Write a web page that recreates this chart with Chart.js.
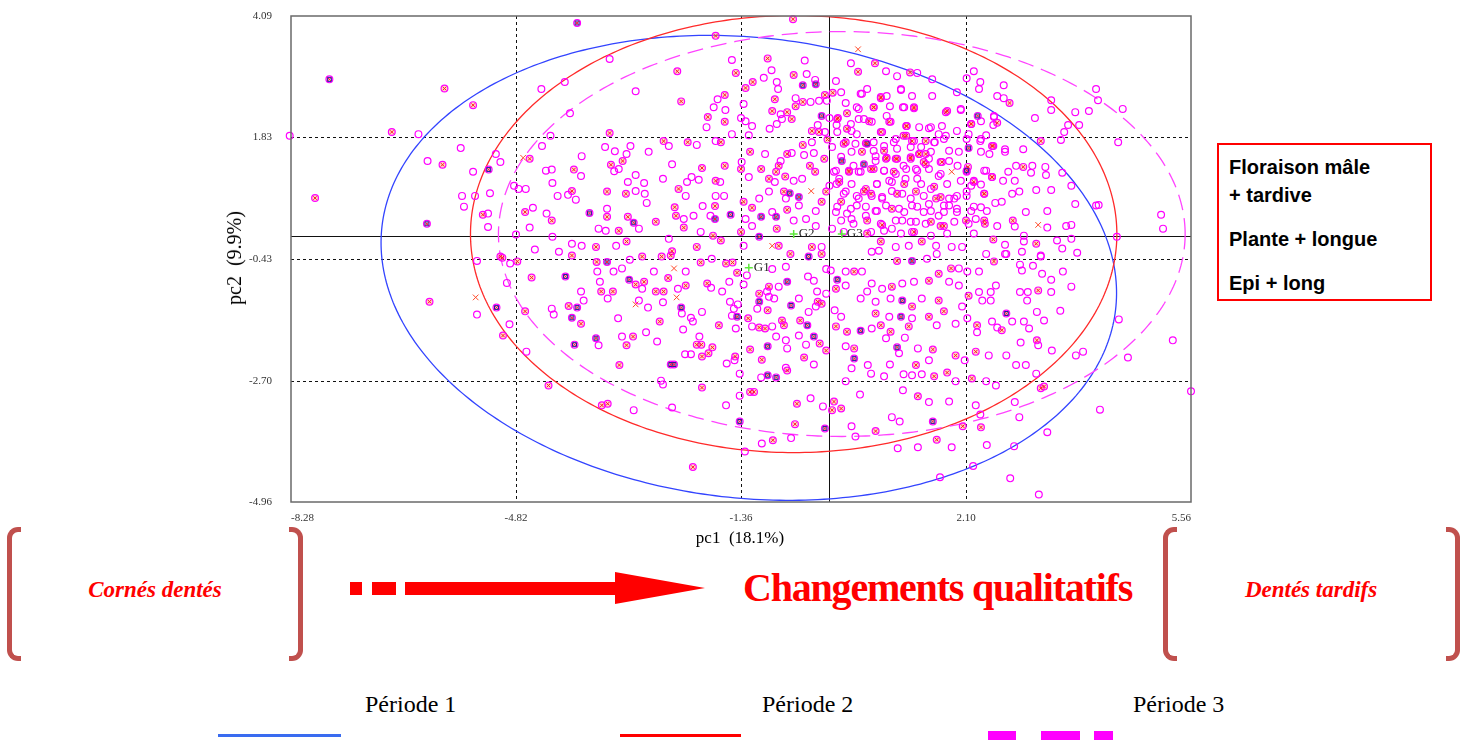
<!DOCTYPE html>
<html>
<head>
<meta charset="utf-8">
<script src="https://cdn.jsdelivr.net/npm/chart.js@4.4.1/dist/chart.umd.min.js"></script>
<style>
  body { margin: 0; background: #fff; width: 1471px; height: 744px; overflow: hidden; position: relative; font-family: 'Liberation Serif', 'Times New Roman', serif; }
  #wrap { position: absolute; left: 0; top: 0; width: 1200px; height: 560px; }
  .t { position: absolute; white-space: nowrap; line-height: 1; }
  .red { color: #ff0000; }
  .bi { font-weight: bold; font-style: italic; font-size: 23px; }
  .bracket { position: absolute; top: 527px; width: 9px; height: 124px; border: 5px solid #c0504d; }
  .bl { border-right: none; border-radius: 11px 0 0 11px; }
  .br { border-left: none; border-radius: 0 11px 11px 0; }
  .box { position: absolute; left: 1217px; top: 143px; width: 211px; height: 154px; border: 2px solid #ff0000; font-family: 'Liberation Sans', Arial, sans-serif; font-weight: bold; font-size: 20px; }
  .box div { position: absolute; left: 10px; white-space: nowrap; line-height: 1; }
  .bar { position: absolute; background: #ff0000; }
  .per { font-size: 24px; color: #000; }
</style>
</head>
<body>
<div id="wrap"><canvas id="chart"></canvas></div>

<div class="t" style="left:740px;top:529px;font-size:17px;transform:translateX(-50%)">pc1&nbsp;&nbsp;(18.1%)</div>
<div class="t" style="left:234px;top:258px;font-size:20px;transform:translate(-50%,-50%) rotate(-90deg)">pc2&nbsp;&nbsp;(9.9%)</div>

<div class="box">
  <div style="top:12px">Floraison mâle</div>
  <div style="top:40px">+ tardive</div>
  <div style="top:84px">Plante + longue</div>
  <div style="top:128px">Epi + long</div>
</div>

<div class="bracket bl" style="left:7px"></div>
<div class="bracket br" style="left:289px"></div>
<div class="t red bi" style="left:155px;top:578px;transform:translateX(-50%)">Cornés dentés</div>

<div class="bar" style="left:350px;top:582px;width:12px;height:13px"></div>
<div class="bar" style="left:372px;top:582px;width:24px;height:13px"></div>
<div class="bar" style="left:405px;top:582px;width:211px;height:13px"></div>
<div style="position:absolute;left:615px;top:572px;width:0;height:0;border-left:90px solid #ff0000;border-top:16px solid transparent;border-bottom:16px solid transparent"></div>
<div class="t red" style="left:743px;top:568px;font-size:40px;font-weight:bold;letter-spacing:-1.2px">Changements qualitatifs</div>

<div class="bracket bl" style="left:1163px"></div>
<div class="bracket br" style="left:1446px"></div>
<div class="t red bi" style="left:1311px;top:578px;transform:translateX(-50%)">Dentés tardifs</div>

<div class="t per" style="left:365px;top:692px">Période 1</div>
<div class="t per" style="left:762px;top:692px">Période 2</div>
<div class="t per" style="left:1133px;top:692px">Période 3</div>
<div class="bar" style="left:218px;top:734px;width:123px;height:3px;background:#3a6cf0"></div>
<div class="bar" style="left:620px;top:734px;width:121px;height:3px"></div>
<div class="bar" style="left:988px;top:731px;width:28px;height:9px;background:#ff00ff"></div>
<div class="bar" style="left:1041px;top:731px;width:39px;height:9px;background:#ff00ff"></div>
<div class="bar" style="left:1094px;top:731px;width:19px;height:9px;background:#ff00ff"></div>

<script>
// ── Axes ───────────────────────────────────────────────────────────────────
const xTickVals = [-8.28, -4.82, -1.36, 2.10, 5.56];
const yTickVals = [-4.96, -2.70, -0.43, 1.83, 4.09];

// ── Centres des groupes et ellipses (pc1, pc2) ────────────────────────────
const groupLabels = ['G1', 'G2', 'G3'];
const centerX = [-1.24, -0.55, 0.19];
const centerY = [-0.60, 0.03, 0.03];
const radiusX = [5.70, 4.97, 5.28];
const radiusY = [4.27, 4.07, 3.77];
const tiltAngle = [-0.19, 0, 0];

// ── Individus ──────────────────────────────────────────────────────────────
const plainPts = [
  [-8.30,1.86],[-6.32,1.89],[-5.67,1.63],[-6.18,1.39],[-5.48,1.19],[-5.13,1.52],[-5.06,1.37],[-5.65,0.74],[-5.45,0.74],[-5.22,0.79],
  [-5.62,0.54],[-5.25,0.41],[-5.25,0.16],[-4.85,0.93],[-4.78,0.87],[-4.67,0.87],[-4.56,0.52],[-4.61,0.15],[-4.82,0.02],[-4.53,-0.26],
  [-5.42,-0.47],[-4.91,-0.52],[-4.96,-0.88],[-5.42,-1.47],[-4.92,-1.65],[-4.66,-2.16],
  [-3.38,3.29],[-4.43,2.73],[-4.07,2.86],[-2.98,2.69],[-3.99,2.28],[-1.50,3.27],[-0.38,3.26],[-0.89,3.08],[-0.35,3.01],[-0.22,2.90],
  [0.10,2.88],[0.33,3.21],[-1.01,2.94],[-0.81,2.86],[-0.79,2.73],[-1.72,2.54],[-1.78,2.39],[-1.60,2.34],[-1.89,2.02],[-1.36,2.19],
  [-1.32,2.45],[-1.50,1.89],[-1.24,1.87],[-1.19,2.04],[-1.29,2.13],[-0.92,1.99],[-0.81,2.08],[-0.73,2.17],[-0.75,2.26],[-0.52,2.56],
  [-0.29,2.49],[-0.16,2.51],[-0.04,2.51],[0.00,2.19],[0.25,2.47],[0.45,2.36],[0.50,2.64],[0.53,2.17],[-0.18,2.06],[-0.07,1.93],
  [0.11,2.06],[0.34,1.95],[-0.39,1.50],[-0.58,1.54],[-0.75,1.39],[-0.99,1.52],[-1.35,1.37],[-1.24,1.09],[-0.84,1.00],[-0.55,1.02],
  [-0.42,1.06],[-0.24,1.54],[0.07,1.19],[-0.93,0.82],[-1.08,0.69],[-0.55,0.28],[-0.36,0.31],[-0.21,0.46],[0.11,0.96],[0.27,0.41],[0.42,0.56],
  [-4.42,1.67],[-4.29,1.86],[-3.45,1.65],[-3.30,1.57],[-3.81,1.48],[-3.06,1.67],[-3.12,1.52],[-2.78,1.56],[-2.47,1.67],[-2.04,1.69],
  [-1.75,1.76],[-2.42,1.33],[-3.31,1.20],[-4.36,1.21],[-4.27,1.23],[-3.82,1.11],[-2.98,1.13],[-3.24,1.24],[-2.12,1.09],[-2.19,1.00],
  [-2.01,1.04],[-1.68,1.00],[-2.56,1.06],[-3.10,1.00],[-2.85,0.98],[-4.26,0.98],[-4.18,0.74],[-4.02,0.76],[-3.90,0.67],[-2.98,0.83],
  [-2.84,0.78],[-2.81,0.61],[-2.21,0.74],[-1.95,0.55],[-1.75,0.74],[-1.62,0.74],[-2.09,0.37],[-2.24,0.31],[-1.83,0.37],[-3.42,0.50],
  [-4.35,0.41],[-3.55,0.13],[-3.44,0.09],[-2.93,0.13],[-1.98,0.07],[-4.26,-0.02],[-3.96,-0.15],[-3.81,-0.19],[-3.28,-0.19],[-2.47,-0.06],
  [-1.32,-0.19],[-0.12,-0.21],[-4.16,-0.30],
  [1.35,3.03],[1.04,2.97],[0.87,3.06],[1.58,2.91],[1.10,2.73],[0.88,2.60],[0.93,2.41],[1.27,2.60],[1.13,2.39],[1.58,2.60],
  [2.02,2.34],[2.11,2.93],[2.22,3.06],[1.96,2.67],[2.32,2.86],[2.30,2.73],[2.68,2.80],[2.58,2.60],[2.68,2.56],[2.53,2.23],
  [2.52,2.06],[1.96,1.95],[2.11,1.80],[2.32,1.76],[2.41,1.87],[2.46,1.52],[2.70,1.61],[2.70,1.56],[2.98,1.61],[3.16,2.19],
  [3.41,2.52],[3.41,2.34],[3.67,2.06],[3.61,1.93],[3.56,1.78],[3.84,2.06],[3.78,2.30],[3.99,2.32],[4.10,2.73],[4.13,2.52],
  [4.51,2.36],[4.44,1.74],[1.68,1.89],[1.79,1.86],[1.62,1.74],[1.68,1.11],[1.97,1.30],[2.11,1.19],[2.22,1.02],[2.38,1.21],
  [2.67,1.02],[2.75,1.19],[2.87,1.30],[3.12,1.30],[3.10,1.17],[3.32,1.28],[3.33,1.13],[3.58,1.17],[3.72,0.93],[3.18,0.85],
  [3.41,0.85],[2.85,1.02],[2.81,0.78],[2.92,0.82],[2.65,0.63],[2.55,0.61],[2.33,0.95],[2.18,0.93],[2.11,0.82],[1.96,0.74],
  [1.84,0.56],[1.96,0.44],[2.18,0.46],[2.33,0.53],[2.25,0.31],[2.58,0.18],[2.85,0.17],[3.02,0.44],[3.35,0.46],[3.35,0.15],
  [3.64,0.18],[3.72,0.20],[3.78,0.59],[4.10,0.56],[4.14,0.57],[5.10,0.39],[5.13,0.13],[4.42,-0.02],[2.99,0.00],[2.99,-0.11],
  [3.50,-0.09],[3.72,-0.06],[3.58,-0.24],[3.81,-0.32],[2.70,-0.17],[2.70,-0.34],[3.25,-0.37],
  [0.65,2.12],[0.81,1.93],[0.94,2.12],[1.38,2.02],[1.53,2.00],[0.68,1.74],[0.84,1.67],[0.99,1.74],[1.41,1.65],[1.53,1.43],
  [0.71,1.48],[1.14,1.30],[1.33,1.24],[0.84,1.21],[1.02,1.15],[1.17,1.06],[0.92,1.02],[0.73,0.96],[1.41,0.96],[1.56,0.87],
  [1.12,0.78],[0.96,0.83],[0.81,0.72],[0.65,0.74],[1.84,0.69],[1.76,0.56],[1.53,0.59],[1.27,0.56],[1.07,0.50],[0.87,0.56],
  [0.71,0.46],[1.45,0.44],[1.68,0.37],[1.12,0.28],[1.33,0.26],[0.96,0.13],[0.64,0.07],[1.27,0.07],[1.64,-0.19],[1.02,-0.21],
  [1.22,-0.19],[1.88,-0.21],[2.04,-0.21],[0.65,-0.30],
  [0.58,2.73],[1.10,2.71],[0.18,2.67],[0.48,2.64],[0.42,2.39],[1.15,2.39],[2.02,2.36],[0.45,2.17],[0.88,2.23],[0.33,2.08],
  [1.56,2.02],[1.73,2.04],[2.33,2.13],[2.53,2.21],[0.12,1.93],[0.42,1.89],[1.02,1.80],[1.30,1.76],[1.61,1.74],[1.76,1.80],
  [2.14,1.89],[2.33,1.80],[0.40,1.71],[0.68,1.58],[1.04,1.62],[1.25,1.65],[1.56,1.56],[1.84,1.58],[1.99,1.56],[2.33,1.56],
  [0.18,1.47],[0.37,1.30],[0.71,1.39],[1.71,1.37],[1.84,1.39],[2.41,1.21],[0.10,1.21],[0.48,1.19],[0.84,1.21],[1.18,1.24],
  [1.35,1.21],[1.53,1.24],[1.71,1.15],[0.34,0.96],[0.73,0.96],[0.96,1.00],[1.35,1.06],[1.81,0.96],[2.02,1.02],[0.22,0.78],
  [0.42,0.74],[0.81,0.69],[1.25,0.69],[1.45,0.74],[1.92,0.69],[2.11,0.74],[0.12,0.54],[0.33,0.50],[0.56,0.54],[0.73,0.46],
  [1.15,0.44],[1.35,0.54],[1.56,0.46],[1.76,0.44],[1.96,0.50],[2.22,0.54],[2.42,0.46],[0.18,0.28],[0.37,0.22],[0.79,0.22],
  [1.02,0.28],[1.25,0.26],[1.48,0.22],[1.92,0.26],[2.14,0.22],[0.22,0.07],[0.84,0.09],[1.10,0.04],[1.56,0.00],[1.81,0.04],[2.22,0.04],
  [-0.27,1.74],[0.04,1.65],[0.34,1.56],[0.45,1.19],[0.15,1.06],[0.00,0.93],[0.25,0.82],[0.45,0.69],[0.10,0.44],[0.34,0.31],
  [0.56,0.37],[-0.21,0.18],[0.04,0.13],[-0.47,0.56],[-0.67,0.69],[-0.88,0.44],[-1.19,0.18],[-1.29,0.31],
  [0.76,-0.28],[1.50,-0.43],[1.65,-0.34],[1.99,-0.61],[2.12,-0.67],[2.30,-0.67],[2.41,-0.34],[2.72,-0.34],[2.96,-0.30],[3.25,-0.39],
  [2.93,-0.54],[2.96,-0.65],[3.13,-0.56],[3.27,-0.71],[3.59,-0.67],[3.41,-0.82],[0.65,-0.89],[0.81,-0.99],[1.12,-0.89],[1.30,-0.86],
  [1.84,-0.86],[1.99,-0.93],[2.30,-1.05],[2.48,-1.05],[2.56,-0.93],[2.35,-1.21],[2.48,-1.21],[2.93,-1.05],[3.05,-1.05],[3.41,-1.05],
  [3.72,-0.95],[3.04,-1.21],[0.71,-1.23],[0.94,-1.17],[1.42,-1.17],[0.92,-1.51],[1.27,-1.54],[2.04,-1.32],[2.12,-1.54],[2.50,-1.60],
  [2.58,-1.71],[2.81,-1.60],[2.99,-1.60],[3.07,-1.73],[3.19,-1.42],[3.30,-1.58],[3.55,-1.40],[4.45,-1.56],[0.65,-1.73],[1.16,-1.90],
  [0.87,-1.91],[1.65,-1.67],[1.94,-1.64],[2.27,-1.80],[2.94,-1.99],[3.21,-2.04],[3.42,-2.14],[3.79,-2.23],[3.90,-2.16],[4.59,-2.27],
  [5.28,-1.95],[1.07,-2.19],[1.36,-2.10],[1.53,-2.32],[2.08,-2.32],[2.45,-2.23],[2.72,-2.23],[2.87,-2.41],[3.02,-2.41],[0.93,-2.40],
  [0.64,-2.57],[0.84,-2.62],[1.14,-2.58],[1.27,-2.60],[1.42,-2.58],[1.94,-2.71],[2.41,-2.71],[2.56,-2.79],[3.18,-2.57],[5.56,-2.90],
  [1.13,-2.88],[1.53,-3.10],[1.84,-3.09],[2.25,-3.16],[2.85,-3.10],[4.16,-3.24],[0.96,-3.38],[1.08,-3.46],[2.32,-3.33],[2.92,-3.38],
  [3.35,-3.66],[1.05,-3.96],[1.36,-3.94],[1.88,-3.94],[2.42,-3.90],[2.84,-3.92],[2.21,-4.29],[1.70,-4.50],[2.78,-4.52],[3.22,-4.82],
  [-3.57,-0.67],[-3.32,-0.67],[-3.19,-0.61],[-3.07,-0.45],[-2.70,-0.67],[-2.21,-0.67],[-1.81,-0.43],[-1.54,-0.86],[-1.32,-0.91],[-3.53,-0.86],
  [-3.82,-1.04],[-3.78,-1.21],[-3.41,-1.17],[-2.88,-0.99],[-2.93,-1.21],[-2.79,-1.34],[-2.56,-1.24],[-2.33,-0.99],[-1.82,-0.97],[-1.65,-1.04],
  [-2.27,-1.45],[-2.13,-1.53],[-2.10,-1.60],[-1.96,-1.42],[-2.25,-1.75],[-4.27,-1.36],[-4.24,-1.47],[-3.25,-1.54],[-1.47,-1.36],[-3.55,-2.04],
  [-3.19,-1.88],[-2.82,-1.80],[-2.65,-1.97],[-2.00,-1.88],[-2.22,-2.21],[-2.13,-2.21],[-1.58,-2.38],[-1.46,-2.32],[-1.38,-2.57],[-2.59,-2.70],
  [-2.56,-2.77],[-3.01,-3.25],[-2.42,-3.20],[-1.59,-3.16],[-1.38,-2.98],[-1.30,-4.02],[-1.05,-2.64],[-0.67,-2.46],[-0.24,-2.40],[-0.29,-3.03],
  [-0.10,-3.18],[-1.04,-3.87],[-0.59,-3.77],[0.34,-3.55],[0.40,-3.74],[-1.27,-0.74],[-0.96,-1.04],[-1.11,-1.36],[-0.93,-1.14],[-0.85,-1.17],
  [-0.78,-0.95],[-1.19,-1.69],[-0.88,-1.69],[-0.67,-1.95],[-0.82,-1.88],[-0.65,-2.10],[-0.47,-1.86],[-0.36,-2.03],[-0.47,-1.17],[-0.32,-1.42],
  [-0.21,-1.32],[-0.05,-1.08],[-0.19,-1.04],[-0.33,-0.76],[-0.24,-0.84],[-0.88,-0.62],[-0.67,-0.58],[-0.05,-0.62],[0.02,-0.65],[0.25,-0.67],
  [0.25,-0.93],[0.50,-0.67],[0.48,-1.17],[0.58,-1.04],[0.08,-1.39],[0.18,-1.51],[0.25,-2.06],[0.34,-2.47],[0.25,-2.71],[0.47,-2.96],
  [0.59,-2.41],[-1.53,-1.23],[-1.41,-1.28],[-1.50,-1.49],[-1.44,-1.73]
];

const crossPts = [
  [-5.92,2.74],[-5.48,2.43],[-6.73,1.93],[-5.95,1.32],[-4.61,1.43],[-7.91,0.70],[-5.33,0.39],[-4.68,0.44],[-5.06,-0.39],
  [-5.03,-0.41],[-4.80,-0.48],[-4.58,-0.78],[-6.15,-1.23],[-4.68,-1.41],[-5.02,-1.86],
  [-0.56,4.03],[-1.75,3.72],[-2.34,3.06],[-2.28,2.50],[-1.44,3.03],[-0.95,3.30],[-0.55,2.99],[0.44,3.05],[-1.18,2.86],[-1.29,2.75],
  [-0.84,2.54],[-1.61,2.62],[-1.87,2.21],[-1.61,2.12],[-0.88,2.32],[-0.65,2.30],[-0.58,2.17],[-0.52,2.41],[-0.41,2.49],[-0.07,2.62],
  [0.05,2.66],[0.13,2.19],[0.27,2.28],[-0.27,1.95],[-0.16,1.93],[-0.03,1.79],[0.25,1.74],[0.56,1.72],[-0.41,1.69],[-0.65,1.52],
  [-0.78,1.30],[-0.82,1.19],[-1.22,1.56],[-1.36,1.24],[-1.05,1.24],[-0.93,1.06],[-0.68,1.10],[-0.30,1.30],[-0.22,1.19],[-0.08,1.43],
  [0.30,1.19],[0.50,1.56],[-0.70,0.82],[-1.19,0.52],[-1.32,0.63],[-0.81,0.13],[-0.65,0.48],[-0.12,0.63],[-0.05,0.82],[0.18,0.63],[0.53,0.82],
  [-3.38,1.91],[-3.18,1.39],[-2.55,1.76],[-2.18,1.74],[-1.67,1.74],[-3.36,1.32],[-3.93,1.23],[-1.96,1.26],[-1.61,1.30],[-1.75,1.02],
  [-3.96,0.83],[-3.42,0.82],[-3.13,0.78],[-2.32,0.87],[-1.76,0.55],[-2.38,0.53],[-2.36,0.37],[-2.67,0.26],[-3.10,0.35],[-3.42,0.35],
  [-4.27,0.28],[-3.24,0.09],[-2.24,0.15],[-3.59,-0.21],[-3.12,-0.11],[-2.42,-0.29],[-1.79,0.00],[-1.67,-0.09],[-2.04,-0.21],[-1.36,0.07],
  [-0.78,-0.19],[-0.27,-0.21],[-3.96,-0.37],
  [0.70,3.21],[1.24,3.04],[0.79,2.56],[0.68,2.39],[1.30,2.39],[1.79,2.30],[2.77,2.47],[2.58,2.10],[2.18,2.08],[2.52,1.67],
  [3.25,1.76],[1.73,1.37],[2.13,1.28],[2.50,1.09],[2.98,1.28],[2.38,0.78],[2.39,0.22],[2.10,0.28],[2.82,0.28],[2.52,-0.07],[3.18,-0.15],
  [1.19,2.04],[1.14,1.86],[1.27,1.76],[1.38,1.52],[1.48,1.52],[0.87,1.43],[1.04,1.43],[1.25,1.46],[1.48,1.33],[0.68,1.24],
  [1.33,0.82],[1.64,0.69],[1.56,0.26],[1.76,0.18],[0.81,0.20],[1.42,-0.11],[0.79,-0.11],
  [0.79,2.58],[0.68,2.39],[1.30,2.37],[1.81,2.32],[0.12,2.17],[0.61,2.13],[0.92,2.12],[1.18,2.04],[2.18,2.08],[0.27,1.99],
  [0.79,1.93],[1.18,1.86],[1.48,1.76],[2.50,1.67],[0.22,1.71],[0.84,1.58],[1.38,1.52],[0.88,1.45],[1.02,1.43],[1.25,1.43],
  [1.45,1.37],[2.50,1.09],[0.30,1.21],[0.64,1.24],[0.99,1.19],[0.15,1.00],[0.56,0.87],[1.15,0.96],[1.61,0.91],[2.22,1.00],
  [2.38,0.78],[0.64,0.78],[1.04,0.78],[1.71,0.72],[0.96,0.50],[0.58,0.28],[1.71,0.18],[2.38,0.28],[0.58,0.04],[1.30,0.07],
  [1.04,-0.47],[1.87,-0.61],[1.68,-0.71],[2.53,-0.48],[0.96,-0.95],[1.53,-0.84],[2.14,-1.12],[3.21,-1.02],[1.27,-1.32],[1.68,-1.21],
  [0.71,-1.45],[1.53,-1.51],[1.76,-1.41],[2.27,-1.67],[2.65,-1.76],[0.79,-1.67],[0.94,-1.79],[1.22,-1.69],[3.19,-1.95],[1.59,-2.12],
  [1.94,-2.23],[2.25,-2.16],[1.33,-2.41],[1.61,-2.62],[1.81,-2.55],[2.19,-2.66],[3.25,-2.84],[3.30,-2.81],[1.36,-2.99],[0.71,-3.64],
  [2.05,-3.55],[2.33,-3.57],[1.65,-3.80],
  [-3.58,-0.49],[-2.88,-0.39],[-2.58,-0.39],[-2.44,-0.37],[-1.98,-0.50],[-1.59,-0.52],[-1.49,-0.50],[-1.42,-0.69],[-3.51,-1.04],[-3.33,-1.04],
  [-2.98,-0.91],[-2.85,-0.86],[-2.67,-1.04],[-2.55,-1.04],[-2.48,-0.79],[-2.21,-0.93],[-1.88,-0.89],[-2.61,-1.60],[-4.01,-1.31],[-3.82,-1.64],
  [-1.70,-1.67],[-3.02,-1.88],[-3.12,-2.04],[-2.04,-2.03],[-1.97,-2.03],[-1.86,-2.19],[-1.80,-2.08],[-1.96,-2.25],[-1.45,-2.25],[-3.23,-2.41],
  [-1.96,-2.83],[-4.32,-2.79],[-3.50,-3.16],[-3.41,-3.13],[-2.10,-4.31],[-1.22,-2.91],[-1.16,-2.91],[-0.65,-2.51],[-1.04,-2.31],[-1.22,-2.12],
  [-0.39,-2.27],[-0.50,-3.13],[-0.53,-3.51],[-0.87,-3.81],[0.07,-3.09],[0.04,-3.25],[0.18,-3.22],[-1.08,-1.08],[-0.93,-0.95],[-0.95,-1.39],
  [-1.08,-1.71],[-0.99,-1.73],[-1.25,-1.54],[-0.73,-1.58],[-0.70,-1.67],[-0.45,-1.58],[-0.15,-2.01],[-0.05,-2.14],[-0.18,-1.23],[-0.12,-1.27],
  [-0.60,-0.34],[-0.12,-0.34],[0.10,-0.99],[0.38,-0.67],[0.10,-1.69],[0.27,-1.79],[0.38,-2.10]
];

const bluePts = [
  [-7.69,2.91],[-5.24,1.23],[-6.19,0.22],[-5.12,-1.34],[-3.88,3.96],[-0.21,2.82],[-0.41,2.80],[-0.12,2.23],[0.19,1.39],[0.53,1.33],
  [-0.47,0.72],[-0.61,0.79],[-1.05,0.35],[-0.82,0.35],[-1.76,0.31],[-1.52,0.39],[-3.01,0.24],[-3.69,0.42],[-1.08,-0.02],[2.28,2.23],
  [2.14,1.63],[1.27,-0.47],[1.12,-1.21],[1.10,-1.51],[2.72,-1.45],[1.04,-2.08],[1.59,-3.46],[-3.42,-0.49],[-4.06,-0.76],[-3.08,-0.82],
  [-2.28,-1.34],[-3.88,-1.34],[-3.96,-1.53],[-1.42,-1.51],[-3.59,-1.91],[-3.92,-2.03],[-2.44,-2.40],[-2.39,-2.40],[-1.38,-3.46],[-0.95,-2.60],
  [-0.82,-2.64],[-0.95,-2.06],[-0.07,-3.59],[-1.08,-1.23],[-0.59,-1.30],[-0.34,-1.67],[-0.24,-1.88],[-0.65,-0.86],[-0.32,-0.39],[0.12,-0.82],
  [0.48,-1.77],[0.38,-2.29],[0.58,1.71],[2.11,1.21]
];

const redXPts = [
  [-4.71,1.45],[-5.44,-1.15],[0.44,3.47],[1.88,1.19],[3.21,0.20],[-2.39,-0.61],[-2.98,-1.28],[-2.35,-1.15],[-0.88,-0.19],[-0.28,0.83]
];

// ── Styles ─────────────────────────────────────────────────────────────────
const ellipseColors = ['#3344ff', '#ff2a2a', '#ff44ff'];
const ellipseDash = [[], [], [16, 8]];
const toXY = arr => arr.map(([x, y]) => ({ x, y }));
const circleAll = plainPts.concat(crossPts, bluePts);

const refLines = {
  id: 'refLines',
  beforeDatasetsDraw(chart) {
    const { ctx, chartArea: a, scales: { x, y } } = chart;
    ctx.save();
    ctx.beginPath();
    ctx.rect(a.left, a.top, a.right - a.left, a.bottom - a.top);
    ctx.clip();
    ctx.strokeStyle = '#111';
    ctx.lineWidth = 1;
    ctx.setLineDash([3, 3]);
    xTickVals.slice(1, -1).forEach(v => {
      const p = Math.round(x.getPixelForValue(v)) + 0.5;
      ctx.beginPath(); ctx.moveTo(p, a.top); ctx.lineTo(p, a.bottom); ctx.stroke();
    });
    yTickVals.slice(1, -1).forEach(v => {
      const p = Math.round(y.getPixelForValue(v)) + 0.5;
      ctx.beginPath(); ctx.moveTo(a.left, p); ctx.lineTo(a.right, p); ctx.stroke();
    });
    ctx.setLineDash([]);
    const x0 = Math.round(x.getPixelForValue(0)) + 0.5;
    const y0 = Math.round(y.getPixelForValue(0)) + 0.5;
    ctx.beginPath(); ctx.moveTo(x0, a.top); ctx.lineTo(x0, a.bottom); ctx.stroke();
    ctx.beginPath(); ctx.moveTo(a.left, y0); ctx.lineTo(a.right, y0); ctx.stroke();

    // ellipses de confiance
    groupLabels.forEach((g, i) => {
      const c = Math.cos(tiltAngle[i]), s = Math.sin(tiltAngle[i]);
      ctx.strokeStyle = ellipseColors[i];
      ctx.lineWidth = 1.3;
      ctx.setLineDash(ellipseDash[i]);
      ctx.beginPath();
      for (let k = 0; k <= 360; k++) {
        const t = k / 360 * Math.PI * 2;
        const ex = radiusX[i] * Math.cos(t), ey = radiusY[i] * Math.sin(t);
        const px = x.getPixelForValue(centerX[i] + ex * c - ey * s);
        const py = y.getPixelForValue(centerY[i] + ex * s + ey * c);
        if (k) ctx.lineTo(px, py); else ctx.moveTo(px, py);
      }
      ctx.stroke();
    });
    ctx.restore();
  },
  afterDatasetsDraw(chart) {
    const { ctx, chartArea: a, scales: { x, y } } = chart;
    ctx.save();
    ctx.font = '13px "Liberation Serif"';
    ctx.fillStyle = '#222';
    ctx.textBaseline = 'middle';
    groupLabels.forEach((g, i) => {
      ctx.fillText(g, x.getPixelForValue(centerX[i]) + 5, y.getPixelForValue(centerY[i]));
    });
    ctx.strokeStyle = '#6a6a6a';
    ctx.lineWidth = 1.5;
    ctx.strokeRect(a.left, a.top, a.right - a.left, a.bottom - a.top);
    ctx.restore();
  }
};

const tickFont = { family: 'Liberation Serif', size: 11 };

new Chart(document.getElementById('chart'), {
  type: 'scatter',
  data: {
    datasets: [
      { data: toXY(groupLabels.map((g, i) => [centerX[i], centerY[i]])), pointStyle: 'cross', radius: 4, borderColor: '#5fe83c', borderWidth: 1.5 },
      { data: toXY(redXPts), pointStyle: 'crossRot', radius: 4, borderColor: '#ff4a2a', borderWidth: 1, clip: false },
      { data: toXY(crossPts.concat(bluePts)), pointStyle: 'crossRot', radius: 2.4, borderColor: '#ff2020', borderWidth: 1, clip: false },
      { data: toXY(bluePts), pointStyle: 'rect', radius: 2.8, borderColor: '#1a1aa8', backgroundColor: 'rgba(90,90,230,0.3)', borderWidth: 1, clip: false },
      { data: toXY(circleAll), pointStyle: 'circle', radius: 3.4, borderColor: '#ff00ff', backgroundColor: 'rgba(0,0,0,0)', borderWidth: 1.2, clip: false },
      { data: toXY(crossPts), pointStyle: 'circle', radius: 3.4, borderColor: '#ff00ff', backgroundColor: 'rgba(255,170,140,0.5)', borderWidth: 0, clip: false }
    ]
  },
  options: {
    responsive: true,
    maintainAspectRatio: false,
    animation: false,
    events: [],
    layout: { padding: { left: 0, top: 16, right: 9, bottom: 0 } },
    plugins: { legend: { display: false }, tooltip: { enabled: false } },
    scales: {
      x: {
        type: 'linear', min: -8.28, max: 5.56,
        afterBuildTicks: axis => { axis.ticks = xTickVals.map(v => ({ value: v })); },
        afterFit: scale => { scale.height = 58; scale.paddingLeft = 0; scale.paddingRight = 0; },
        ticks: { callback: v => v.toFixed(2), font: tickFont, color: '#333', padding: 10, align: 'inner', maxRotation: 0, autoSkip: false },
        grid: { display: false, drawTicks: false },
        border: { display: false }
      },
      y: {
        type: 'linear', min: -4.96, max: 4.09,
        afterBuildTicks: axis => { axis.ticks = yTickVals.map(v => ({ value: v })); },
        afterFit: scale => { scale.width = 291; scale.paddingTop = 0; scale.paddingBottom = 0; },
        ticks: { callback: v => v.toFixed(2), font: tickFont, color: '#333', padding: 19, autoSkip: false },
        grid: { display: false, drawTicks: false },
        border: { display: false }
      }
    }
  },
  plugins: [refLines]
});
</script>
</body>
</html>
